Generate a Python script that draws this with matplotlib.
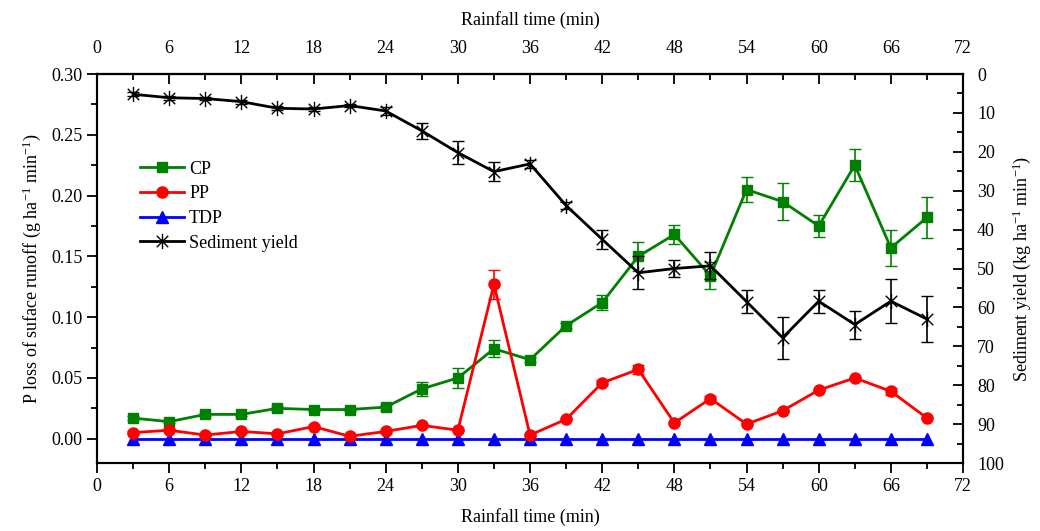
import numpy as np
import matplotlib
matplotlib.use('Agg')
import matplotlib.pyplot as plt
from matplotlib.path import Path
from matplotlib.lines import Line2D
from matplotlib.ticker import MultipleLocator

# Fuente tipo Times
plt.rcParams['font.family'] = ['Liberation Serif', 'DejaVu Serif']
plt.rcParams['mathtext.fontset'] = 'custom'
plt.rcParams['mathtext.rm'] = 'Liberation Serif'
plt.rcParams['mathtext.it'] = 'Liberation Serif:italic'

# --- DATOS ---
tiempo = [3, 6, 9, 12, 15, 18, 21, 24, 27, 30, 33, 36,
          39, 42, 45, 48, 51, 54, 57, 60, 63, 66, 69]

cp = [0.017, 0.014, 0.020, 0.020, 0.025, 0.024, 0.024, 0.026, 0.041, 0.050, 0.074, 0.065,
      0.093, 0.112, 0.150, 0.168, 0.134, 0.205, 0.195, 0.175, 0.225, 0.157, 0.182]
cp_err = [0.002, 0.001, 0.001, 0.001, 0.002, 0.001, 0.001, 0.002, 0.006, 0.008, 0.007, 0.002,
          0.002, 0.006, 0.012, 0.008, 0.011, 0.010, 0.015, 0.009, 0.013, 0.015, 0.017]

pp = [0.005, 0.007, 0.003, 0.006, 0.004, 0.010, 0.002, 0.006, 0.011, 0.007, 0.127, 0.003,
      0.016, 0.046, 0.057, 0.013, 0.033, 0.012, 0.023, 0.040, 0.050, 0.039, 0.017]
pp_err = [0.001, 0.001, 0.001, 0.001, 0.001, 0.001, 0.001, 0.001, 0.001, 0.001, 0.012, 0.001,
          0.001, 0.002, 0.004, 0.001, 0.002, 0.001, 0.001, 0.001, 0.001, 0.003, 0.001]

tdp = [0.0] * 23

sedimento = [5.2, 6.1, 6.3, 7.1, 8.8, 9.0, 8.1, 9.5, 14.6, 20.2, 25.1, 23.1,
             33.8, 42.5, 51.1, 50.0, 49.3, 58.5, 67.8, 58.4, 64.4, 58.4, 63.0]
sedimento_err = [0.5, 0.5, 0.5, 0.5, 0.5, 0.5, 0.5, 1.0, 2.1, 3.0, 2.5, 1.0,
                 1.0, 2.4, 4.2, 2.2, 3.5, 3.0, 5.4, 3.0, 3.6, 5.7, 6.0]

# Marcador asterisco (X + linea vertical), como en Origin
estrella = Path([(0, -1), (0, 1), (-0.75, -0.75), (0.75, 0.75), (-0.75, 0.75), (0.75, -0.75)],
                [Path.MOVETO, Path.LINETO, Path.MOVETO, Path.LINETO, Path.MOVETO, Path.LINETO])

fig = plt.figure(figsize=(10.4, 5.31), dpi=100)
ax = fig.add_axes([0.0933, 0.128, 0.8327, 0.7326])

# Series en eje izquierdo
ax.errorbar(tiempo, cp, yerr=cp_err, color='#008000', marker='s', markersize=7,
            linewidth=2, elinewidth=1.2, capsize=4)
ax.errorbar(tiempo, pp, yerr=pp_err, color='#FF0000', marker='o', markersize=8,
            linewidth=2, elinewidth=1.2, capsize=4)
ax.plot(tiempo, tdp, color='#0000FF', marker='^', markersize=8, linewidth=2)

ax.set_xlim(0, 72)
ax.set_ylim(-0.02, 0.30)
ax.xaxis.set_major_locator(MultipleLocator(6))
ax.xaxis.set_minor_locator(MultipleLocator(3))
ax.yaxis.set_minor_locator(MultipleLocator(0.025))
ax.set_yticks(np.arange(0, 0.301, 0.05))
ax.set_yticklabels([f'{v:.2f}' for v in np.arange(0, 0.301, 0.05)])
ax.tick_params(axis='both', which='both', direction='out', labelsize=13, width=1.3)
ax.tick_params(axis='both', which='major', length=7)
ax.tick_params(axis='both', which='minor', length=4)
ax.tick_params(axis='y', which='both', right=False)
ax.set_xlabel('Rainfall time (min)', fontsize=13, labelpad=10)
ax.set_ylabel(r'P loss of suface runoff (g ha$^{-1}$ min$^{-1}$)', fontsize=13, labelpad=6)

# Eje derecho invertido para sedimento
axr = ax.twinx()
axr.errorbar(tiempo, sedimento, yerr=sedimento_err, color='black', marker=estrella,
             markersize=11, markeredgewidth=1.0, linewidth=2, elinewidth=1.2, capsize=4)
axr.set_ylim(100, 0)
axr.yaxis.set_major_locator(MultipleLocator(10))
axr.yaxis.set_minor_locator(MultipleLocator(5))
axr.tick_params(axis='y', which='both', direction='in', labelsize=13, width=1.3, pad=10)
axr.tick_params(axis='y', which='major', length=7)
axr.tick_params(axis='y', which='minor', length=4)
axr.set_ylabel(r'Sediment yield (kg ha$^{-1}$ min$^{-1}$)', fontsize=13, labelpad=5)

# Eje superior
axt = ax.secondary_xaxis('top')
axt.xaxis.set_major_locator(MultipleLocator(6))
axt.xaxis.set_minor_locator(MultipleLocator(3))
axt.tick_params(axis='x', which='both', direction='in', labelsize=13, width=1.3, pad=12)
axt.tick_params(axis='x', which='major', length=7)
axt.tick_params(axis='x', which='minor', length=4)
axt.set_xlabel('Rainfall time (min)', fontsize=13, labelpad=11)

for a in (ax, axr):
    for s in a.spines.values():
        s.set_linewidth(1.5)
axt.spines['top'].set_linewidth(1.5)

# Leyenda en el orden del original
handles = [
    Line2D([], [], color='#008000', marker='s', markersize=7, linewidth=2),
    Line2D([], [], color='#FF0000', marker='o', markersize=8, linewidth=2),
    Line2D([], [], color='#0000FF', marker='^', markersize=8, linewidth=2),
    Line2D([], [], color='black', marker=estrella, markersize=11, markeredgewidth=1.0, linewidth=2),
]
labels = ['CP', 'PP', 'TDP', 'Sediment yield']
axr.legend(handles, labels, loc='upper left', bbox_to_anchor=(0.05, 0.777),
           frameon=False, fontsize=13, borderpad=0, borderaxespad=0,
           handlelength=2.4, handletextpad=0.3, labelspacing=0.42)

plt.savefig('out.png', dpi=100)
